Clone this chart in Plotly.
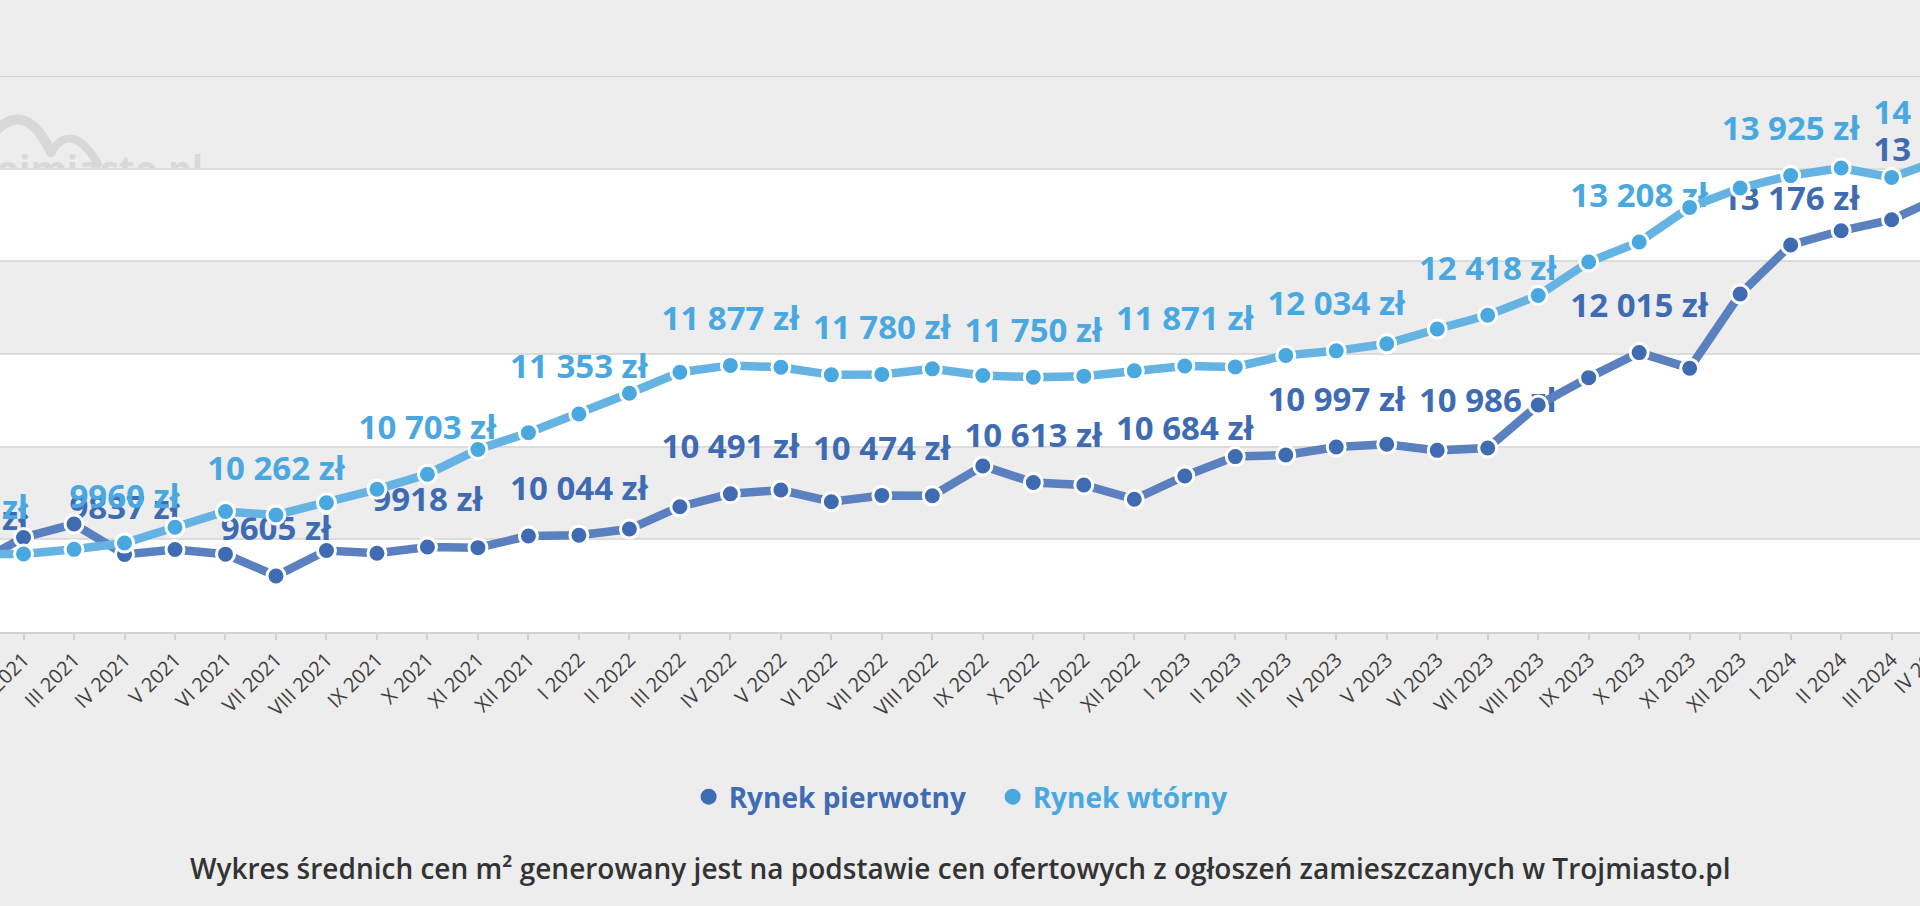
import base64
import plotly.graph_objects as go

# average offer price per m2 (zł), Trojmiasto.pl
months = ["I 2021", "II 2021", "III 2021", "IV 2021", "V 2021", "VI 2021",
          "VII 2021", "VIII 2021", "IX 2021", "X 2021", "XI 2021", "XII 2021",
          "I 2022", "II 2022", "III 2022", "IV 2022", "V 2022", "VI 2022",
          "VII 2022", "VIII 2022", "IX 2022", "X 2022", "XI 2022", "XII 2022",
          "I 2023", "II 2023", "III 2023", "IV 2023", "V 2023", "VI 2023",
          "VII 2023", "VIII 2023", "IX 2023", "X 2023", "XI 2023", "XII 2023",
          "I 2024", "II 2024", "III 2024", "IV 2024"]

pierwotny = [9720, 10020, 10165, 9837, 9890, 9840, 9605, 9880, 9850, 9918,
             9910, 10036, 10044, 10111, 10352, 10491, 10532, 10406, 10474, 10470,
             10792, 10613, 10586, 10432, 10684, 10893, 10910, 10997, 11026, 10960,
             10986, 11450, 11745, 12015, 11847, 12647, 13176, 13330, 13449, 13700]

wtorny = [9840, 9841, 9892, 9960, 10130, 10300, 10262, 10395, 10540, 10703,
          10970, 11151, 11353, 11576, 11803, 11877, 11857, 11775, 11780, 11840,
          11768, 11750, 11761, 11818, 11871, 11861, 11985, 12034, 12110, 12270,
          12418, 12632, 12992, 13208, 13582, 13791, 13925, 14007, 13906, 14100]

series_names = ["Rynek pierwotny", "Rynek wtórny"]
footnote = ("Wykres średnich cen m² generowany jest na podstawie cen ofertowych "
            "z ogłoszeń zamieszczanych w Trojmiasto.pl")

DARK = "#3f6bb2"
DARK_LINE = "#5b80bf"
LIGHT = "#4aa8e0"
LIGHT_LINE = "#64b3e3"
BG = "#ededed"
FONT = "Open Sans"
TICKFONT = dict(family=FONT, size=20, color="#404040")


def fmt(v):
    s = f"{v:,}".replace(",", " ") if v >= 10000 else str(v)
    return s + " zł"


def labels(vals):
    # every third month gets a value label
    return [fmt(v) if i % 3 == 0 else "" for i, v in enumerate(vals)]


fig = go.Figure()

# data labels first, so lines and markers sit on top of them
for vals, col in [(pierwotny, DARK), (wtorny, LIGHT)]:
    fig.add_trace(go.Scatter(
        x=months, y=vals, mode="markers+text", text=labels(vals),
        textposition="top center",
        textfont=dict(family=FONT, size=33, color=col, weight=700),
        marker=dict(size=42, opacity=0), cliponaxis=True,
        hoverinfo="skip", showlegend=False))

for vals, col, lcol in [(pierwotny, DARK, DARK_LINE), (wtorny, LIGHT, LIGHT_LINE)]:
    fig.add_trace(go.Scatter(
        x=months, y=vals, mode="lines+markers",
        line=dict(color=lcol, width=8.5),
        marker=dict(size=18, color=col, line=dict(color="white", width=3)),
        showlegend=False))

# legend entries: plain circles, text in series colour
for name, col in zip(series_names, [DARK, LIGHT]):
    fig.add_trace(go.Scatter(
        x=[None], y=[None], mode="markers",
        marker=dict(size=20, color=col),
        name=f"<span style='color:{col}'>{name}</span>"))

# alternating white bands
shapes = []
for lo in [9000, 11000, 13000]:
    shapes.append(dict(type="rect", xref="paper", yref="y", x0=0, x1=1,
                       y0=lo, y1=lo + 1000, fillcolor="white",
                       line=dict(width=0), layer="below"))
shapes.append(dict(type="line", xref="paper", yref="y", x0=0, x1=1,
                   y0=15000, y1=15000, line=dict(color="#d6d6d6", width=2)))

# faint watermark logo, partly hidden behind the white band
svg = ("<svg xmlns='http://www.w3.org/2000/svg' width='260' height='80' "
       "viewBox='0 0 260 80'>"
       "<path d='M 26 33 Q 62 -18 91 42' stroke='#d8d8d8' stroke-width='10' "
       "fill='none' stroke-linecap='round'/>"
       "<path d='M 91 42 Q 112 10 138 54' stroke='#d8d8d8' stroke-width='8' "
       "fill='none' stroke-linecap='round'/>"
       "<text x='243' y='73' text-anchor='end' font-family='Open Sans' "
       "font-weight='700' font-size='37' fill='#d9d9d9'>trojmiasto.pl</text>"
       "</svg>")
logo = "data:image/svg+xml;base64," + base64.b64encode(svg.encode()).decode()

H_PLOT = 556
STEP = 1920 / (38.562 - 0.534)  # px per month

annotations = [dict(text=footnote, xref="paper", yref="paper",
                    x=0.5, y=-236 / H_PLOT, xanchor="center",
                    yanchor="middle", showarrow=False,
                    font=dict(family=FONT, size=28, color="#333333",
                              weight=600))]
# last month's tick label sits just past the right edge, only partly visible
annotations.append(dict(text=months[-1], xref="x", yref="paper",
                        x=months[-2], y=0, xshift=STEP - 21, yshift=-33,
                        textangle=-45, showarrow=False, xanchor="center",
                        yanchor="middle", font=TICKFONT))

fig.update_layout(
    width=1920, height=906,
    margin=dict(l=0, r=0, t=76, b=274, autoexpand=False),
    paper_bgcolor=BG, plot_bgcolor=BG,
    font=dict(family=FONT, color="#333333"),
    shapes=shapes,
    images=[dict(source=logo, xref="paper", yref="paper",
                 x=-40 / 1920, y=1 - 34 / H_PLOT, sizex=260 / 1920,
                 sizey=80 / H_PLOT, xanchor="left", yanchor="top",
                 sizing="stretch", layer="below")],
    legend=dict(orientation="h", x=0.517, xanchor="center",
                y=-165 / H_PLOT, yanchor="middle", entrywidth=259,
                font=dict(family=FONT, size=28, weight=700),
                bgcolor="rgba(0,0,0,0)"),
    annotations=annotations,
    hovermode=False,
)

fig.update_xaxes(
    type="category", categoryorder="array", categoryarray=months,
    range=[0.534, 38.562], tickangle=-45, automargin=False,
    tickfont=TICKFONT,
    showline=True, linecolor="#d2d2d2", linewidth=2,
    ticks="outside", ticklen=6, tickcolor="#d2d2d2", tickwidth=1.5,
    showgrid=False, zeroline=False)

fig.update_yaxes(
    range=[9000, 15000], dtick=1000, showticklabels=False, automargin=False,
    showgrid=True, gridcolor="#dcdcdc", gridwidth=1.5, zeroline=False)

fig.write_html("out.html", config={"displayModeBar": False}, post_script=(
    "document.body.style.margin='0';"
    "document.body.style.overflow='hidden';"))
